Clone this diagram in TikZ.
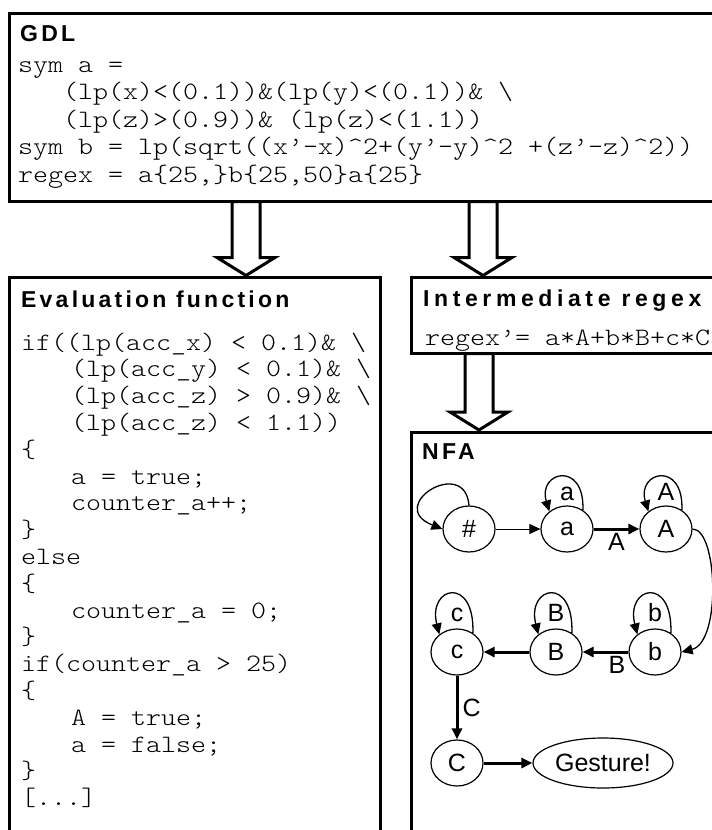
\documentclass[tikz,border=0pt]{standalone}
\usepackage{fontspec}
\setmainfont{Liberation Sans}
\newfontfamily\codefont{lmmonolt10-regular.otf}[FakeStretch=1.143]
\newfontfamily\titlefont{Liberation Sans}[LetterSpace=14]
\newfontfamily\titlefontw{Liberation Sans}[LetterSpace=20]
\usetikzlibrary{arrows.meta,calc,shapes.geometric}
\newcommand\blockarrow[3]{%
  \draw[barrow] let \p1=(#2.south), \p2=(#3.north), \p3=(#1,0) in
    (\x3-14pt,\y1) -- (\x3-14pt,\y2+20pt) -- (\x3-29pt,\y2+20pt) -- (\x3,\y2+2pt)
    -- (\x3+29pt,\y2+20pt) -- (\x3+14pt,\y2+20pt) -- (\x3+14pt,\y1) -- cycle;}
\newcommand\ind{\hspace*{45pt}}
\newcommand\indE{\hspace*{50pt}}
\begin{document}
\begin{tikzpicture}[x=1pt,y=-1pt,
  box/.style={draw, line width=3pt, inner sep=0pt, outer sep=0pt, anchor=north west},
  title/.style={anchor=base west, inner sep=0pt, font=\titlefont\bfseries\fontsize{23}{26}\selectfont},
  titlew/.style={title, font=\titlefontw\bfseries\fontsize{23}{26}\selectfont},
  code/.style={anchor=base west, inner sep=0pt, font=\codefont\fontsize{25}{27.5}\selectfont},
  codeE/.style={anchor=base west, inner sep=0pt, font=\codefont\fontsize{25}{26.8}\selectfont},
  barrow/.style={draw, line width=3pt, fill=white, line join=miter},
  st/.style={draw, ellipse, line width=1.2pt, minimum width=52pt, minimum height=46pt, inner sep=0pt, font=\fontsize{25}{30}\selectfont},
  lbl/.style={inner sep=0pt, font=\fontsize{25}{30}\selectfont},
  arrtip/.style={-{Triangle[length=11pt,width=10pt]}},
  thinedge/.style={arrtip, line width=1.3pt},
  thickedge/.style={arrtip, line width=3pt},
]
\useasboundingbox (0,0) rectangle (712,830);
\clip (0,0) rectangle (712,830);

% boxes
\node[box, minimum width=720pt, minimum height=188.5pt] (gdl) at (9.5,13) {};
\node[box, minimum width=371pt, minimum height=600pt] (eval) at (9.5,277.5) {};
\node[box, minimum width=400pt, minimum height=76pt] (inter) at (411,277.5) {};
\node[box, minimum width=400pt, minimum height=500pt] (nfa) at (411,432) {};

% titles
\node[title] (tgdl) at (20,41) {GDL};
\node[title] (teval) at (21,307) {Evaluation function};
\node[titlew] (tint) at (423,306) {Intermediate regex};
\node[title] (tnfa) at (422,459) {NFA};

% code
\node[code] (cgdl) at (18,72) {\parbox[t]{690pt}{%
sym a =\\
\ind(lp(x)<(0.1))\&(lp(y)<(0.1))\& \textbackslash\\
\ind(lp(z)>(0.9))\& (lp(z)<(1.1))\\
sym b = lp(sqrt((x’-x)\textasciicircum{}2+(y’-y)\textasciicircum{}2 +(z’-z)\textasciicircum{}2))\\
regex = a\{25,\}b\{25,50\}a\{25\}}};

\node[codeE] (ceval) at (21,350) {\parbox[t]{355pt}{%
if((lp(acc\_x) < 0.1)\& \textbackslash\\
\indE(lp(acc\_y) < 0.1)\& \textbackslash\\
\indE(lp(acc\_z) > 0.9)\& \textbackslash\\
\indE(lp(acc\_z) < 1.1))\\
\{\\
\indE a = true;\\
\indE counter\_a++;\\
\}\\
else\\
\{\\
\indE counter\_a = 0;\\
\}\\
if(counter\_a > 25)\\
\{\\
\indE A = true;\\
\indE a = false;\\
\}\\
{[...]}}};

\node[code] (cint) at (425,345) {regex’= a*A+b*B+c*C};

% block arrows
\blockarrow{246}{gdl}{eval}
\blockarrow{483}{gdl}{inter}
\blockarrow{479}{inter}{nfa}

% NFA states
\node[st] (hash) at (469,529) {\#};
\node[st] (na) at (567,529) {a};
\node[st] (nA) at (666,529) {A};
\node[st] (nb) at (655,652) {b};
\node[st] (nB) at (556,652) {B};
\node[st] (nc) at (457,652) {c};
\node[st] (nC) at (457,763) {C};
\node[st, minimum width=140pt, minimum height=50pt] (ges) at (603,763) {Gesture!};

% transitions
\draw[thinedge, line width=1pt] (hash) -- (na);
\draw[thickedge] (na) -- node[lbl, below=3pt] (lA) {A} (nA);
\draw[thinedge] (nA.east) .. controls +(25,0) and +(40,-10) .. (nb.east);
\draw[thickedge] (nb) -- node[lbl, below=3pt, pos=0.25] (lB) {B} (nB);
\draw[thickedge] (nB) -- (nc);
\draw[thickedge] (nc) -- node[lbl, right=4pt] (lC) {C} (nC);
\draw[thickedge] (nC) -- (ges);

% self loops
\draw[thinedge] (hash.north) .. controls +(-4,-50) and +(-58,-23) .. (hash.west);
\draw[thinedge] (na.50) .. controls +(2,-50) and +(-12,-40) .. (na.135);
\draw[thinedge] (nA.50) .. controls +(2,-50) and +(-12,-40) .. (nA.135);
\draw[thinedge] (nb.50) .. controls +(2,-58) and +(-12,-48) .. (nb.135);
\draw[thinedge] (nB.50) .. controls +(2,-58) and +(-12,-48) .. (nB.135);
\draw[thinedge] (nc.50) .. controls +(2,-58) and +(-12,-48) .. (nc.135);
\node[lbl, anchor=base] (la) at ($(na.north)+(0,-5)$) {a};
\node[lbl, anchor=base] (lAA) at ($(nA.north)+(0,-5)$) {A};
\node[lbl, anchor=base] (lb) at ($(nb.north)+(0,-7)$) {b};
\node[lbl, anchor=base] (lBB) at ($(nB.north)+(0,-7)$) {B};
\node[lbl, anchor=base] (lc) at ($(nc.north)+(0,-7)$) {c};
\end{tikzpicture}
\end{document}
